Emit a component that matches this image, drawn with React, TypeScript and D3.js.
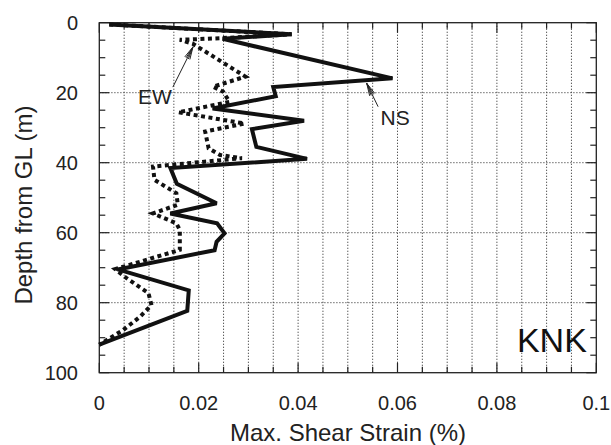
import React from "react";
import * as d3 from "d3";

// ---- data ----
const nsDepth = [0.5, 3.3, 4.6, 15.9, 18.4, 21.0, 24.5, 28.0, 30.4, 35.5, 38.9, 41.5, 46.0, 51.6, 54.5, 57.3, 60.2, 62.6, 65.0, 70.5, 76.5, 82.3, 92.0];
const nsStrain = [0.0020, 0.0387, 0.0248, 0.0590, 0.0350, 0.0355, 0.0228, 0.0412, 0.0307, 0.0316, 0.0418, 0.0143, 0.0156, 0.0236, 0.0143, 0.0237, 0.0252, 0.0236, 0.0232, 0.0037, 0.0180, 0.0177, 0.0000];

const ewDepth = [0.5, 3.3, 4.4, 4.9, 6.0, 15.4, 18.3, 19.7, 22.6, 25.6, 28.8, 31.1, 35.9, 37.8, 38.7, 41.1, 44.9, 48.7, 52.0, 54.5, 57.3, 59.2, 64.9, 70.4, 73.0, 77.3, 80.7, 84.0, 87.8, 92.0];
const ewStrain = [0.0020, 0.0387, 0.0248, 0.0162, 0.0188, 0.0294, 0.0229, 0.0249, 0.0262, 0.0159, 0.0292, 0.0213, 0.0220, 0.0243, 0.0287, 0.0108, 0.0111, 0.0155, 0.0158, 0.0108, 0.0155, 0.0162, 0.0162, 0.0032, 0.0055, 0.0099, 0.0105, 0.0082, 0.0048, 0.0000];

const xTicks = [0, 0.02, 0.04, 0.06, 0.08, 0.1];
const xTickLabels = ["0", "0.02", "0.04", "0.06", "0.08", "0.1"];
const yTicks = [0, 20, 40, 60, 80, 100];
const yTickLabels = ["0", "20", "40", "60", "80", "100"];

const xTitle = "Max. Shear Strain (%)";
const yTitle = "Depth from GL (m)";
const siteLabel = "KNK";

// annotations in data space: [strain, depth]
const ewLabel = { text: "EW", at: [0.0078, 23.2], tail: [0.0148, 18.4], tip: [0.01885, 6.9] };
const nsLabel = { text: "NS", at: [0.0566, 29.2], tail: [0.0561, 24.0], tip: [0.0538, 17.3] };

const W = 611;
const H = 445;
const FONT = "'Liberation Sans', Arial, Helvetica, sans-serif";

export default function App() {
  const x = d3.scaleLinear().domain([0, 0.1]).range([99.3, 596.3]);
  const y = d3.scaleLinear().domain([0, 100]).range([22.7, 372.7]);

  const line = d3
    .line<[number, number]>()
    .x((d) => x(d[0]))
    .y((d) => y(d[1]));

  const nsPts: [number, number][] = nsDepth.map((d, i) => [nsStrain[i], d]);
  const ewPts: [number, number][] = ewDepth.map((d, i) => [ewStrain[i], d]);

  const minorX = d3.range(0, 21).map((i) => i * 0.005);
  const minorY = d3.range(0, 21).map((i) => i * 5);

  const [x0, x1] = x.range();
  const [y0, y1] = y.range();

  const arrow = (a: typeof ewLabel, key: string) => {
    const tx = x(a.tip[0]);
    const ty = y(a.tip[1]);
    const sx = x(a.tail[0]);
    const sy = y(a.tail[1]);
    const ang = Math.atan2(sy - ty, sx - tx);
    const L = 13;
    const barbs = [-0.22, -0.1, 0.1, 0.22].map((da) => [tx + L * Math.cos(ang + da), ty + L * Math.sin(ang + da)]);
    return (
      <g key={key} stroke="#222" strokeWidth={1} fill="none">
        <line x1={sx} y1={sy} x2={tx} y2={ty} />
        {barbs.map((b, i) => (
          <line key={i} x1={b[0]} y1={b[1]} x2={tx} y2={ty} />
        ))}
      </g>
    );
  };

  return (
    <svg width={W} height={H} style={{ position: "absolute", left: 0, top: 0, background: "#fff" }}>
      <rect x={0} y={0} width={W} height={H} fill="#fff" />
      {/* vertical grid */}
      {minorX.slice(1, -1).map((v) => (
        <line key={"gx" + v} x1={x(v)} x2={x(v)} y1={y0} y2={y1} stroke="#444" strokeWidth={1} strokeDasharray="1.2,1.8" />
      ))}
      {/* horizontal grid */}
      {yTicks.slice(1, -1).map((v) => (
        <line key={"gy" + v} x1={x0} x2={x1} y1={y(v)} y2={y(v)} stroke="#444" strokeWidth={1} strokeDasharray="1.2,1.8" />
      ))}
      {/* ticks */}
      {minorX.map((v, i) => {
        const len = i % 4 === 0 ? 10 : 6;
        return (
          <g key={"tx" + i} stroke="#222" strokeWidth={1.2}>
            <line x1={x(v)} x2={x(v)} y1={y1} y2={y1 - len} />
            <line x1={x(v)} x2={x(v)} y1={y0} y2={y0 + len} />
          </g>
        );
      })}
      {minorY.map((v, i) => {
        const len = i % 4 === 0 ? 10 : 6;
        return (
          <g key={"ty" + i} stroke="#222" strokeWidth={1.2}>
            <line x1={x0} x2={x0 + len} y1={y(v)} y2={y(v)} />
            <line x1={x1} x2={x1 - len} y1={y(v)} y2={y(v)} />
          </g>
        );
      })}
      {/* frame */}
      <rect x={x0} y={y0} width={x1 - x0} height={y1 - y0} fill="none" stroke="#222" strokeWidth={1.3} />

      {/* data */}
      <path d={line(ewPts) || ""} fill="none" stroke="#111" strokeWidth={4} strokeDasharray="4,3.5" strokeLinejoin="miter" />
      <path d={line(nsPts) || ""} fill="none" stroke="#111" strokeWidth={4} strokeLinejoin="miter" strokeMiterlimit={3} />

      {/* annotations */}
      {arrow(ewLabel, "ewa")}
      {arrow(nsLabel, "nsa")}
      <text x={x(ewLabel.at[0])} y={y(ewLabel.at[1])} fontFamily={FONT} fontSize={21} fill="#222">{ewLabel.text}</text>
      <text x={x(nsLabel.at[0])} y={y(nsLabel.at[1])} fontFamily={FONT} fontSize={21} fill="#222">{nsLabel.text}</text>
      <text x={x(0.0981)} y={y(94)} fontFamily={FONT} fontSize={34} fill="#111" textAnchor="end">{siteLabel}</text>

      {/* tick labels */}
      {xTicks.map((v, i) => (
        <text key={"xl" + i} x={x(v)} y={410} fontFamily={FONT} fontSize={20} fill="#222" textAnchor="middle">{xTickLabels[i]}</text>
      ))}
      {yTicks.map((v, i) => (
        <text key={"yl" + i} x={78} y={y(v) + 7} fontFamily={FONT} fontSize={20} fill="#222" textAnchor="end">{yTickLabels[i]}</text>
      ))}

      {/* titles */}
      <text x={348} y={441} fontFamily={FONT} fontSize={24} fill="#222" textAnchor="middle">{xTitle}</text>
      <text transform={`translate(32,205) rotate(-90)`} fontFamily={FONT} fontSize={24} fill="#222" textAnchor="middle">{yTitle}</text>
    </svg>
  );
}
